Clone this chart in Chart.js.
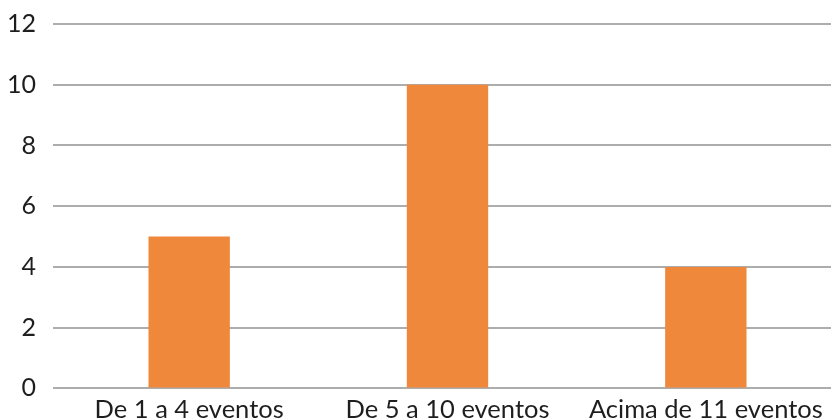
<!DOCTYPE html>
<html>
<head>
<meta charset="utf-8">
<script src="https://cdn.jsdelivr.net/npm/chart.js@4/dist/chart.umd.min.js"></script>
<style>
  html, body { margin: 0; padding: 0; background: #fff; overflow: hidden; }
  #wrap { width: 831px; height: 419px; overflow: hidden; }
</style>
</head>
<body>
<div id="wrap">
  <canvas id="eventsChart" width="835" height="431"></canvas>
</div>
<script>
// events per participant
const categories = ["De 1 a 4 eventos", "De 5 a 10 eventos", "Acima de 11 eventos"];
const counts = [5, 10, 4];
const yTicks = [0, 2, 4, 6, 8, 10, 12];

const barColor = "#F0883B";
const gridColor = "#ADADAD";
const textColor = "#1e1e1e";

const data = {
  labels: categories,
  datasets: [
    {
      data: counts,
      backgroundColor: barColor,
      borderWidth: 0,
      barPercentage: 0.315,
      categoryPercentage: 1,
    },
  ],
};

const config = {
  type: "bar",
  data: data,
  options: {
    responsive: false,
    animation: false,
    layout: { padding: { top: 24, right: 0, left: 0, bottom: 0 } },
    plugins: {
      legend: { display: false },
      tooltip: { enabled: false },
    },
    scales: {
      x: {
        grid: { display: false, drawTicks: false },
        border: { display: false },
        ticks: {
          color: textColor,
          padding: 6,
          font: { family: "Lato", size: 25.5 },
          maxRotation: 0,
        },
      },
      y: {
        min: 0,
        max: 12,
        afterBuildTicks: (axis) => {
          axis.ticks = yTicks.map((v) => ({ value: v }));
        },
        // fixed axis width, no extra room above the top label
        afterFit: (axis) => {
          axis.width = 60;
          axis.paddingTop = 0;
          axis.paddingBottom = 0;
        },
        grid: {
          color: gridColor,
          lineWidth: 2,
          drawTicks: true,
          tickLength: 7,
        },
        border: { display: false },
        ticks: {
          color: textColor,
          padding: 17,
          font: { family: "Lato", size: 25 },
        },
      },
    },
  },
};

const eventsChart = new Chart(document.getElementById("eventsChart"), config);
</script>
</body>
</html>
